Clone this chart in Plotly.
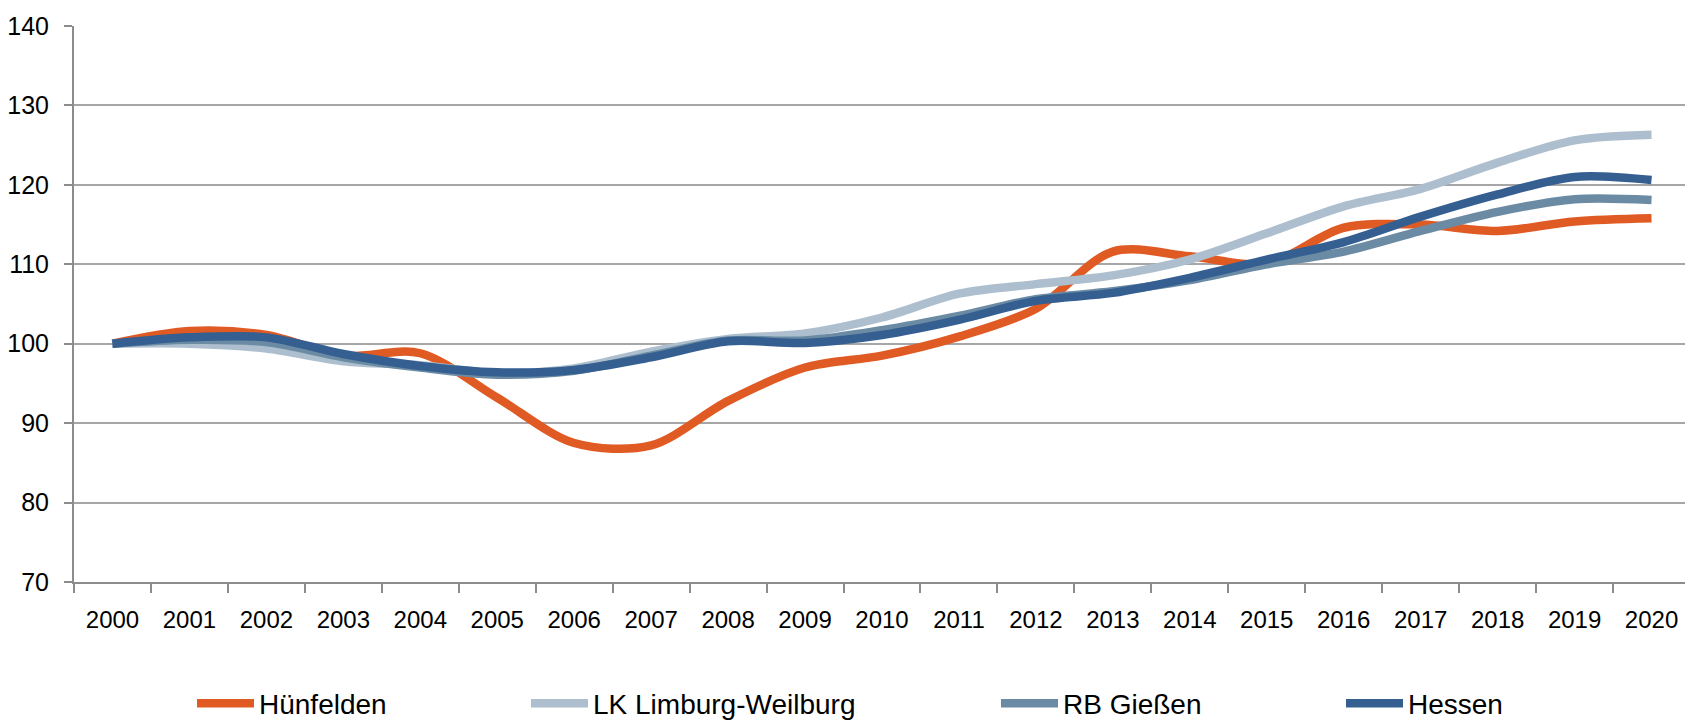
import plotly.graph_objects as go

years = [str(y) for y in range(2000, 2021)]
huenfelden = [100.0, 101.6, 101.1, 98.5, 98.8, 93.2, 87.5, 87.2, 92.8, 97.0, 98.5,
              100.9, 104.4, 111.6, 111.0, 110.1, 114.6, 115.0, 114.2, 115.4, 115.8]
limburg = [100.0, 100.0, 99.4, 97.8, 97.3, 96.3, 96.9, 99.0, 100.6, 101.3, 103.3,
           106.3, 107.5, 108.6, 110.6, 113.9, 117.3, 119.5, 122.8, 125.6, 126.3]
giessen = [100.0, 100.5, 100.2, 98.3, 97.0, 96.1, 96.6, 98.5, 100.4, 100.4, 101.7,
           103.5, 105.6, 106.6, 108.0, 110.0, 111.6, 114.2, 116.6, 118.2, 118.1]
hessen = [100.0, 100.8, 100.8, 98.7, 97.2, 96.4, 96.7, 98.3, 100.3, 100.1, 101.1,
          103.0, 105.4, 106.4, 108.3, 110.6, 112.8, 116.0, 118.8, 121.0, 120.6]

series = [
    ("Hünfelden", huenfelden, "#E05A24"),
    ("LK Limburg-Weilburg", limburg, "#ADBFCE"),
    ("RB Gießen", giessen, "#6A8BA3"),
    ("Hessen", hessen, "#355F91"),
]

FONT = "Liberation Sans, Arial, sans-serif"

fig = go.Figure()
legend_names = ["legend", "legend2", "legend3", "legend4"]
for (name, vals, col), lg in zip(series, legend_names):
    fig.add_trace(go.Scatter(
        x=years, y=vals, name=name, mode="lines",
        line=dict(color=col, width=8.5, shape="spline", smoothing=0.9),
        legend=lg,
    ))

# page body has an 8px margin, so the figure is laid out 8px up/left
OFF = 8
W, H = 1693, 724
ml, mt = 74 - OFF, 26 - OFF
plot_right, plot_bottom = 1690 - OFF, 582.3 - OFF
mr, mb = W - plot_right, H - plot_bottom
pw = W - ml - mr
ph = H - mt - mb

def px_x(x):
    return (x - ml) / pw

def px_y(y):
    return (H - mb - y) / ph

leg_x = [184, 518, 988, 1333]
leg_common = dict(orientation="h", yanchor="middle", xanchor="left",
                  font=dict(family=FONT, size=28, color="#000000"),
                  bgcolor="rgba(0,0,0,0)", itemwidth=57, tracegroupgap=0)
layout_legends = {}
for lg, lx in zip(legend_names, leg_x):
    layout_legends[lg] = dict(x=px_x(lx), y=px_y(696), **leg_common)

fig.update_layout(
    width=W, height=H,
    margin=dict(l=ml, r=mr, t=mt, b=mb, autoexpand=False),
    plot_bgcolor="white", paper_bgcolor="white",
    font=dict(family=FONT, size=24, color="#000000"),
    showlegend=True,
    **layout_legends,
)
fig.update_xaxes(
    type="category", range=[-0.5, 20.5], automargin=False,
    showgrid=False, showline=True, linecolor="#8C8C8C", linewidth=2,
    ticks="outside", tickson="boundaries", ticklen=9, tickwidth=2, tickcolor="#8C8C8C",
    tickfont=dict(family=FONT, size=24, color="#000000"),
    ticklabelstandoff=15,
)
fig.update_yaxes(
    range=[70, 140], dtick=10, tick0=70, automargin=False,
    showgrid=True, gridcolor="#A6A6A6", gridwidth=1.5,
    showline=True, linecolor="#8C8C8C", linewidth=2,
    ticks="outside", ticklen=8, tickwidth=2, tickcolor="#8C8C8C",
    tickfont=dict(family=FONT, size=25, color="#000000"),
    ticklabelstandoff=10, zeroline=False,
)

fig.write_html("out.html")
